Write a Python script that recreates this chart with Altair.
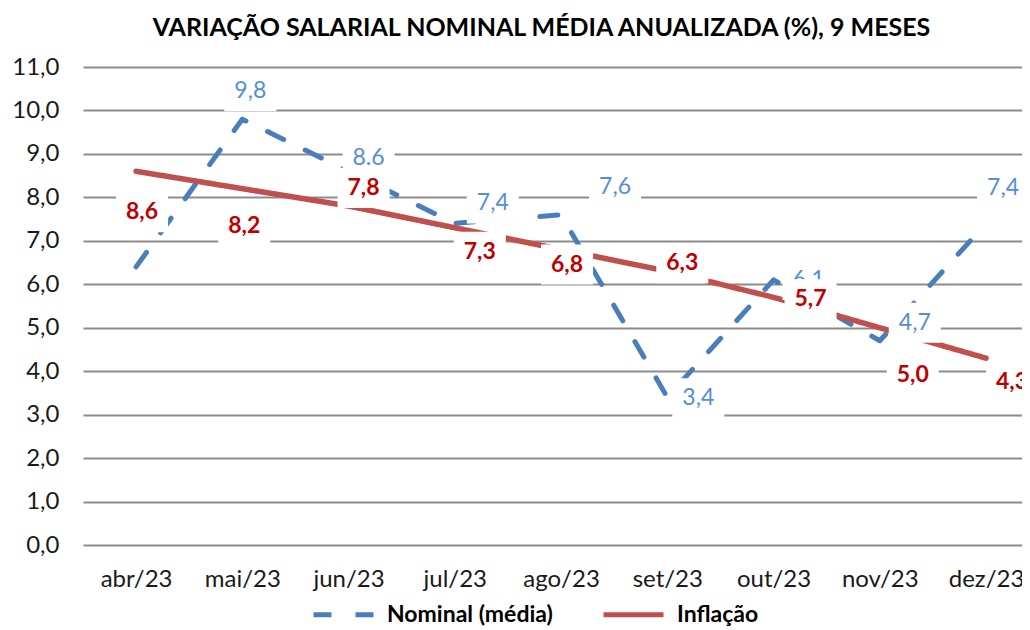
import altair as alt
import pandas as pd

# ---- data ----
months = ["abr/23", "mai/23", "jun/23", "jul/23", "ago/23", "set/23", "out/23", "nov/23", "dez/23"]
nominal = [6.4, 9.8, 8.6, 7.4, 7.6, 3.4, 6.1, 4.7, 7.4]
inflacao = [8.6, 8.2, 7.8, 7.3, 6.8, 6.3, 5.7, 5.0, 4.3]
nominal_labels = ["", "9,8", "8.6", "7,4", "7,6", "3,4", "6,1", "4,7", "7,4"]
inflacao_labels = ["8,6", "8,2", "7,8", "7,3", "6,8", "6,3", "5,7", "5,0", "4,3"]
series_names = ["Nominal (média)", "Inflação"]
y_ticks = [0, 1, 2, 3, 4, 5, 6, 7, 8, 9, 10, 11]
title_text = "VARIAÇÃO SALARIAL NOMINAL MÉDIA ANUALIZADA (%), 9 MESES"

# ---- label placement (pixel offsets, styling only) ----
nominal_dx = [0, 8, 20, 38, 54, 31, 35, 35, 17]
nominal_dy = [0, -28, -13, -20, -28, 1, 0, -18, -35]
inflacao_dx = [6, 2, 15, 25, 6, 15, 37, 33, 26]
inflacao_dy = [41, 37, -18, 24, 15, -8, 2, 47, 24]

rows = []
for m, v, lab, dx, dy in zip(months, nominal, nominal_labels, nominal_dx, nominal_dy):
    rows.append(dict(series=series_names[0], month=m, value=v, label=lab, dx=dx, dy=dy))
for m, v, lab, dx, dy in zip(months, inflacao, inflacao_labels, inflacao_dx, inflacao_dy):
    rows.append(dict(series=series_names[1], month=m, value=v, label=lab, dx=dx, dy=dy))
df = pd.DataFrame(rows)

W, H = 939, 478
Y_MAX = 11
FONT = "Lato"
BLUE_LINE = "#4A7EBB"
RED_LINE = "#C0504D"
BLUE_TXT = "#558ED5"
RED_TXT = "#C00000"
BOX = "M-1,-0.77H1V0.77H-1Z"

x_scale = alt.Scale(type="point", domain=months, padding=0.419, align=0.596)
y_scale = alt.Scale(domain=[0, Y_MAX], nice=False, zero=True)

x_axis = alt.Axis(title=None, labelAngle=0, domain=False, ticks=False, grid=False,
                  labelFont=FONT, labelFontSize=24, labelColor="#1a1a1a", labelPadding=22)
y_axis = alt.Axis(title=None, values=y_ticks, domain=False, ticks=False, grid=True,
                  gridColor="#8C8C8C", gridWidth=2,
                  labelExpr="replace(format(datum.value, '.1f'), '.', ',')",
                  labelFont=FONT, labelFontSize=24, labelColor="#1a1a1a", labelPadding=24)

X = alt.X("month:N", sort=months, scale=x_scale, axis=x_axis)
Y = alt.Y("value:Q", scale=y_scale, axis=y_axis)

legend = alt.Legend(title=None, orient="none", legendX=228, legendY=515, direction="horizontal",
                    symbolType="stroke", symbolSize=3600, symbolStrokeWidth=5,
                    labelFont=FONT, labelFontSize=23, labelFontWeight="bold", labelColor="#000000",
                    labelOffset=11, labelLimit=400, columnPadding=40)
color = alt.Color("series:N", scale=alt.Scale(domain=series_names, range=[BLUE_LINE, RED_LINE]),
                  legend=legend)
dash = alt.StrokeDash("series:N", scale=alt.Scale(domain=series_names, range=[[18, 24], [1, 0]]),
                      legend=legend)

base = alt.Chart(df)

line_nom = base.transform_filter(alt.datum.series == series_names[0]).mark_line(
    strokeWidth=5, strokeCap="round", strokeJoin="round"
).encode(x=X, y=Y, color=color, strokeDash=dash)

line_inf = base.transform_filter(alt.datum.series == series_names[1]).mark_line(
    strokeWidth=5.5, strokeCap="round", strokeJoin="round"
).encode(x=X, y=Y, color=color, strokeDash=dash)


def label_layers(name, txt_color, weight):
    sub = (base.transform_filter(alt.datum.series == name)
           .transform_filter(alt.datum.label != "")
           .transform_calculate(value=f"datum.value - datum.dy * {Y_MAX} / {H}"))
    enc = dict(x=X, y=Y, xOffset=alt.XOffset("dx:Q", scale=None))
    box = sub.mark_point(shape=BOX, filled=True, fill="white", opacity=1, size=2704,
                         strokeWidth=0).encode(**enc)
    txt = sub.mark_text(font=FONT, fontSize=23, fontWeight=weight, baseline="middle",
                        align="center", color=txt_color).encode(text="label:N", **enc)
    return [box, txt]


layers = [line_nom, line_inf] + label_layers(series_names[0], BLUE_TXT, "normal") + \
    label_layers(series_names[1], RED_TXT, "bold")

chart = alt.layer(*layers).properties(
    width=W,
    height=H,
    title=alt.TitleParams(title_text, font=FONT, fontSize=25, fontWeight="bold", color="#000000",
                          anchor="middle", offset=14, dx=-11),
    autosize=alt.AutoSizeParams(type="none"),
    padding={"left": 75, "top": 59, "right": 0, "bottom": 84},
    background="white",
).configure_view(stroke=None)

chart.save("out.html", embed_options={"renderer": "svg", "actions": False})
